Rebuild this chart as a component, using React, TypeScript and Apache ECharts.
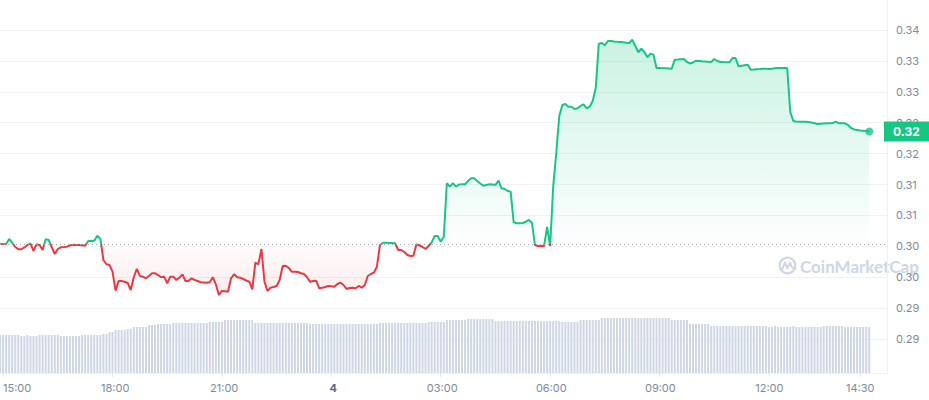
import React, { useEffect, useRef } from "react";
import * as echarts from "echarts";

// time axis in hours relative to 15:00 (day 3); data every 5 minutes from 14:55
const START_HOUR = -1 / 12;
const STEP_HOUR = 1 / 12;
const X_MIN = -0.085;
const X_MAX = 24.236;

const openPrice = 0.30276;

const prices = [
  0.30276, 0.30276, 0.30276, 0.30354, 0.30292, 0.30229, 0.30194, 0.30194, 0.30222, 0.30260,
  0.30287, 0.30167, 0.30271, 0.30260, 0.30183, 0.30349, 0.30338, 0.30229, 0.30121, 0.30198,
  0.30225, 0.30229, 0.30234, 0.30253, 0.30265, 0.30260, 0.30260, 0.30256, 0.30250, 0.30323,
  0.30323, 0.30327, 0.30405, 0.30354, 0.30027, 0.29961, 0.29950, 0.29846, 0.29551, 0.29701,
  0.29701, 0.29690, 0.29670, 0.29561, 0.29759, 0.29888, 0.29779, 0.29768, 0.29743, 0.29779,
  0.29821, 0.29821, 0.29794, 0.29759, 0.29768, 0.29666, 0.29768, 0.29768, 0.29717, 0.29753,
  0.29805, 0.29701, 0.29701, 0.29743, 0.29717, 0.29701, 0.29681, 0.29678, 0.29675, 0.29681,
  0.29759, 0.29650, 0.29484, 0.29546, 0.29541, 0.29535, 0.29743, 0.29805, 0.29759, 0.29753,
  0.29732, 0.29709, 0.29690, 0.29572, 0.29986, 0.29961, 0.30198, 0.29690, 0.29546, 0.29597,
  0.29608, 0.29624, 0.29717, 0.29934, 0.29939, 0.29903, 0.29846, 0.29846, 0.29841, 0.29821,
  0.29810, 0.29759, 0.29690, 0.29701, 0.29706, 0.29588, 0.29597, 0.29608, 0.29624, 0.29619,
  0.29613, 0.29655, 0.29675, 0.29639, 0.29577, 0.29593, 0.29597, 0.29588, 0.29624, 0.29597,
  0.29639, 0.29779, 0.29810, 0.29830, 0.29923, 0.30260, 0.30296, 0.30296, 0.30292, 0.30292,
  0.30287, 0.30183, 0.30183, 0.30152, 0.30105, 0.30090, 0.30094, 0.30271, 0.30253, 0.30229,
  0.30198, 0.30245, 0.30299, 0.30400, 0.30400, 0.30312, 0.30389, 0.31219, 0.31166, 0.31219,
  0.31166, 0.31200, 0.31203, 0.31203, 0.31255, 0.31297, 0.31297, 0.31255, 0.31216, 0.31182,
  0.31193, 0.31203, 0.31200, 0.31193, 0.31259, 0.31141, 0.31130, 0.31099, 0.31088, 0.30613,
  0.30598, 0.30598, 0.30602, 0.30622, 0.30649, 0.30607, 0.30260, 0.30245, 0.30245, 0.30245,
  0.30540, 0.30245, 0.31166, 0.31685, 0.32264, 0.32435, 0.32451, 0.32409, 0.32409, 0.32373,
  0.32384, 0.32420, 0.32446, 0.32384, 0.32409, 0.32497, 0.32699, 0.33387, 0.33398, 0.33363,
  0.33429, 0.33429, 0.33422, 0.33417, 0.33414, 0.33409, 0.33403, 0.33398, 0.33450, 0.33352,
  0.33254, 0.33310, 0.33259, 0.33176, 0.33232, 0.33217, 0.33010, 0.33010, 0.33007, 0.33005,
  0.33002, 0.32999, 0.33139, 0.33142, 0.33147, 0.33150, 0.33103, 0.33080, 0.33095, 0.33123,
  0.33119, 0.33114, 0.33111, 0.33106, 0.33103, 0.33150, 0.33119, 0.33103, 0.33101, 0.33100,
  0.33098, 0.33165, 0.33165, 0.33036, 0.33044, 0.33053, 0.33061, 0.32984, 0.32987, 0.32992,
  0.32995, 0.32999, 0.32998, 0.32995, 0.32999, 0.33007, 0.33010, 0.33010, 0.33010, 0.33010,
  0.32326, 0.32187, 0.32179, 0.32176, 0.32176, 0.32176, 0.32171, 0.32163, 0.32152, 0.32140,
  0.32145, 0.32149, 0.32151, 0.32151, 0.32155, 0.32176, 0.32151, 0.32151, 0.32151, 0.32125,
  0.32078, 0.32055, 0.32047, 0.32039, 0.32036, 0.32031, 0.32023,
];

// volume (millions), one bar every 5 minutes
const volumes = [
  3.8, 3.8, 3.8, 3.8, 3.8, 3.8, 3.8, 3.7, 3.7, 3.8,
  3.7, 3.7, 3.7, 3.8, 3.8, 3.8, 3.8, 3.8, 3.8, 3.8,
  3.7, 3.7, 3.7, 3.7, 3.7, 3.7, 3.7, 3.8, 3.8, 3.8,
  3.8, 3.8, 3.8, 3.8, 3.9, 3.9, 4.1, 4.1, 4.3, 4.3,
  4.3, 4.3, 4.4, 4.4, 4.6, 4.6, 4.6, 4.6, 4.6, 4.8,
  4.8, 4.8, 4.9, 4.9, 4.9, 4.9, 4.9, 5.0, 5.0, 5.0,
  5.0, 5.0, 5.0, 5.0, 5.0, 5.0, 5.0, 5.0, 5.0, 5.1,
  5.1, 5.1, 5.1, 5.1, 5.3, 5.3, 5.3, 5.3, 5.3, 5.3,
  5.3, 5.3, 5.3, 5.3, 5.0, 5.0, 5.0, 5.0, 5.0, 5.0,
  5.0, 5.0, 5.0, 5.0, 5.0, 5.0, 5.0, 5.0, 5.0, 5.0,
  5.0, 5.0, 4.9, 4.9, 4.9, 4.9, 4.9, 4.9, 4.9, 4.9,
  4.9, 4.9, 4.9, 4.9, 4.9, 4.9, 4.9, 4.9, 4.9, 4.9,
  4.9, 4.9, 4.9, 4.9, 4.9, 5.0, 5.0, 5.0, 5.0, 5.0,
  5.0, 5.0, 5.0, 5.0, 5.0, 5.0, 5.0, 5.0, 5.0, 5.0,
  5.0, 5.1, 5.1, 5.1, 5.1, 5.1, 5.1, 5.3, 5.3, 5.3,
  5.3, 5.3, 5.3, 5.3, 5.4, 5.4, 5.4, 5.4, 5.4, 5.4,
  5.4, 5.4, 5.4, 5.2, 5.2, 5.2, 5.2, 5.2, 5.2, 5.2,
  5.2, 5.2, 5.2, 5.2, 5.2, 5.2, 5.2, 5.2, 5.2, 5.2,
  5.2, 5.2, 5.2, 5.2, 5.2, 5.1, 5.1, 5.1, 5.1, 5.1,
  5.1, 5.3, 5.3, 5.3, 5.3, 5.3, 5.3, 5.3, 5.5, 5.5,
  5.5, 5.5, 5.5, 5.5, 5.5, 5.5, 5.5, 5.5, 5.5, 5.5,
  5.5, 5.5, 5.5, 5.5, 5.5, 5.5, 5.5, 5.5, 5.5, 5.5,
  5.5, 5.3, 5.3, 5.3, 5.3, 5.3, 5.3, 4.9, 4.9, 4.9,
  4.9, 4.9, 4.9, 4.9, 4.7, 4.7, 4.7, 4.7, 4.7, 4.7,
  4.7, 4.7, 4.7, 4.7, 4.7, 4.7, 4.7, 4.7, 4.7, 4.7,
  4.7, 4.7, 4.7, 4.6, 4.6, 4.7, 4.6, 4.6, 4.6, 4.6,
  4.6, 4.7, 4.6, 4.6, 4.6, 4.6, 4.6, 4.6, 4.6, 4.6,
  4.6, 4.7, 4.7, 4.7, 4.7, 4.7, 4.7, 4.7, 4.6, 4.6,
  4.6, 4.6, 4.6, 4.6, 4.6, 4.6, 4.6,
];

const xTickValues = [0, 3, 6, 9, 12, 15, 18, 21, 23.5];
const xTickLabels = ["15:00", "18:00", "21:00", "4", "03:00", "06:00", "09:00", "12:00", "14:30"];
const X_LABEL_STEP = 0.5;
const X_TICK_STEP = 3;
const X_LAST_TICK = 23.5;

const Y_MIN = 0.288;
const Y_MAX = 0.336;
const Y_INTERVAL = 0.0048;
const VOL_AXIS_MAX = 37.3;

const GREEN = "#16c784";
const RED = "#ea3943";
const GRID_COLOR = "#eff2f5";
const LABEL_COLOR = "#808a9d";
const FONT = "Inter, Roboto, sans-serif";

export default function App() {
  const ref = useRef<HTMLDivElement>(null);

  useEffect(() => {
    if (!ref.current) return;
    const chart = echarts.init(ref.current, undefined, { renderer: "svg" });

    const times = prices.map((_, i) => START_HOUR + i * STEP_HOUR);
    const lineData = prices.map((p, i) => [times[i], p]);
    const upData = prices.map((p, i) => [times[i], Math.max(p, openPrice)]);
    const downData = prices.map((p, i) => [times[i], Math.min(p, openPrice)]);
    const volData = volumes.map((v, i) => [times[i], v]);
    const last = lineData[lineData.length - 1];

    const xFormatter = (v: number) => {
      const k = xTickValues.findIndex((t) => Math.abs(t - v) < 1e-6);
      if (k < 0) return "";
      const s = xTickLabels[k];
      if (k === 0) return "{first|" + s + "}";
      if (s === "4") return "{day|" + s + "}";
      return s;
    };

    // helper grids start exactly at the 15:00 position so that their ticks count from 0
    const plotWidth = 887;
    const pxPerHour = plotWidth / (X_MAX - X_MIN);
    const labelLeft = -X_MIN * pxPerHour;
    const tickWidth = X_LAST_TICK * pxPerHour;

    chart.setOption({
      animation: false,
      grid: [
        { left: 0, right: 42, top: 30, height: 309 },
        { left: 0, right: 42, top: 0, bottom: 27 },
        { left: labelLeft, right: 42, top: 0, bottom: 27 },
        { left: labelLeft, width: tickWidth, top: 0, bottom: 27 },
      ],
      xAxis: [
        { type: "value", gridIndex: 0, min: X_MIN, max: X_MAX, show: false },
        {
          type: "value",
          gridIndex: 1,
          min: X_MIN,
          max: X_MAX,
          axisLine: { show: true, onZero: false, lineStyle: { color: GRID_COLOR } },
          axisTick: { show: false },
          splitLine: { show: false },
          axisLabel: { show: false },
        },
        {
          type: "value",
          gridIndex: 2,
          min: 0,
          max: X_MAX,
          interval: X_LABEL_STEP,
          axisLine: { show: false, onZero: false },
          axisTick: { show: false },
          splitLine: { show: false },
          axisLabel: {
            show: true,
            showMinLabel: true,
            showMaxLabel: false,
            margin: 9,
            color: LABEL_COLOR,
            fontFamily: FONT,
            fontSize: 11,
            formatter: xFormatter,
            rich: {
              first: { padding: [0, 0, 0, 22], color: LABEL_COLOR, fontFamily: FONT, fontSize: 11 },
              day: { color: "#58667e", fontWeight: "bold", fontFamily: FONT, fontSize: 11 },
            },
          },
        },
        {
          type: "value",
          gridIndex: 3,
          min: 0,
          max: X_LAST_TICK,
          interval: X_TICK_STEP,
          axisLine: { show: false, onZero: false },
          axisTick: { show: true, length: 4, lineStyle: { color: "#e3e7ee" } },
          splitLine: { show: false },
          axisLabel: { show: false },
        },
      ],
      yAxis: [
        {
          type: "value",
          gridIndex: 0,
          position: "right",
          min: Y_MIN,
          max: Y_MAX,
          interval: Y_INTERVAL,
          axisLine: { show: false },
          axisTick: { show: false },
          splitLine: { show: true, lineStyle: { color: GRID_COLOR } },
          axisLabel: {
            margin: 9,
            color: LABEL_COLOR,
            fontFamily: FONT,
            fontSize: 11,
            formatter: (v: number) => v.toFixed(2),
          },
        },
        {
          type: "value",
          gridIndex: 1,
          position: "right",
          min: 0,
          max: VOL_AXIS_MAX,
          axisLine: { show: true, onZero: false, lineStyle: { color: GRID_COLOR } },
          axisTick: { show: false },
          axisLabel: { show: false },
          splitLine: { show: false },
        },
        { type: "value", gridIndex: 2, show: false, min: 0, max: 1 },
        { type: "value", gridIndex: 3, show: false, min: 0, max: 1 },
      ],
      visualMap: {
        show: false,
        type: "piecewise",
        seriesIndex: 2,
        dimension: 1,
        pieces: [
          { gte: 0, lt: openPrice, color: RED },
          { gte: openPrice, lte: 1, color: GREEN },
        ],
      },
      graphic: [
        {
          type: "group",
          silent: true,
          z: 1,
          children: [
            {
              type: "circle",
              shape: { cx: 787.5, cy: 265.5, r: 7.8 },
              style: { fill: "none", stroke: "#cfd6e4", lineWidth: 2.2 },
            },
            {
              type: "polyline",
              shape: {
                points: [
                  [782.3, 269],
                  [785, 262.5],
                  [787.5, 268.5],
                  [790, 262.5],
                  [792, 267.5],
                  [795.3, 268.5],
                ],
              },
              style: { fill: "none", stroke: "#cfd6e4", lineWidth: 2, lineCap: "round", lineJoin: "round" },
            },
            {
              type: "text",
              x: 800,
              y: 266,
              style: {
                text: "CoinMarketCap",
                fill: "#cfd6e4",
                fontSize: 17,
                fontWeight: "bold",
                fontFamily: "Lato, sans-serif",
                verticalAlign: "middle",
              },
            },
          ],
        },
      ],
      series: [
        {
          type: "line",
          xAxisIndex: 0,
          yAxisIndex: 0,
          data: upData,
          symbol: "none",
          silent: true,
          lineStyle: { opacity: 0 },
          areaStyle: {
            origin: openPrice,
            color: new echarts.graphic.LinearGradient(0, 0, 0, 1, [
              { offset: 0, color: "rgba(22,199,132,0.32)" },
              { offset: 1, color: "rgba(22,199,132,0.01)" },
            ]),
          },
          z: 1,
        },
        {
          type: "line",
          xAxisIndex: 0,
          yAxisIndex: 0,
          data: downData,
          symbol: "none",
          silent: true,
          lineStyle: { opacity: 0 },
          areaStyle: {
            origin: openPrice,
            color: new echarts.graphic.LinearGradient(0, 0, 0, 1, [
              { offset: 0, color: "rgba(234,57,67,0.02)" },
              { offset: 1, color: "rgba(234,57,67,0.14)" },
            ]),
          },
          z: 1,
        },
        {
          type: "line",
          xAxisIndex: 0,
          yAxisIndex: 0,
          data: lineData,
          symbol: "none",
          lineStyle: { width: 2 },
          z: 3,
          markLine: {
            silent: true,
            precision: 6,
            symbol: ["none", "none"],
            label: { show: false },
            lineStyle: { color: "#a1a7bb", type: [1, 3], width: 1 },
            data: [{ yAxis: openPrice }],
          },
        },
        {
          type: "scatter",
          xAxisIndex: 0,
          yAxisIndex: 0,
          data: [last],
          symbolSize: 8,
          itemStyle: { color: GREEN },
          z: 4,
          markLine: {
            silent: true,
            precision: 6,
            symbol: ["none", "none"],
            lineStyle: { color: "rgba(0,0,0,0)", width: 0 },
            label: {
              show: true,
              position: "end",
              distance: -3,
              formatter: (p: any) => Number(p.value).toFixed(2),
              backgroundColor: GREEN,
              color: "#ffffff",
              fontWeight: "bold",
              fontFamily: FONT,
              fontSize: 12,
              padding: [4, 16, 4, 9],
            },
            data: [{ yAxis: last[1] }],
          },
        },
        {
          type: "bar",
          xAxisIndex: 1,
          yAxisIndex: 1,
          data: volData,
          barWidth: 2,
          silent: true,
          itemStyle: { color: "#cfd6e4" },
        },
      ],
    });

    return () => chart.dispose();
  }, []);

  return (
    <div
      ref={ref}
      style={{ position: "fixed", left: 0, top: 0, width: 929, height: 400, background: "#fff" }}
    />
  );
}
